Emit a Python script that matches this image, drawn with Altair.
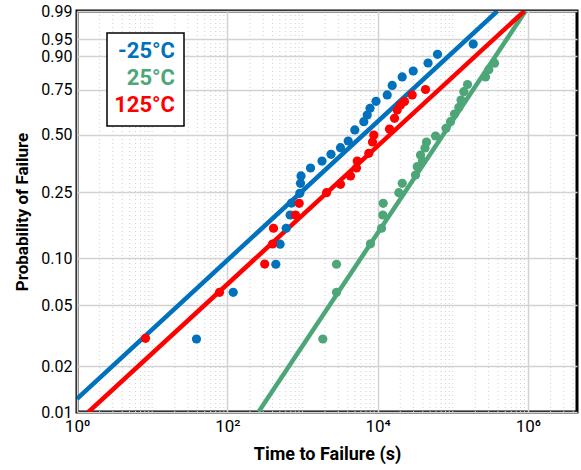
import math
import json
import altair as alt
import pandas as pd

# ---------------- data ----------------
temps = ["-25°C", "25°C", "125°C"]
colors = ["#0072BD", "#4DA678", "#FF0000"]

blue_t = [38.9, 119.8, 442, 504, 608, 685, 715, 922, 942, 957, 1280, 1820, 2399,
          3208, 4062, 4975, 6550, 7275, 7925, 9525, 13420, 15640, 21240, 29780,
          46880, 62660, 187100]
blue_p = [0.0302, 0.0607, 0.0916, 0.1224, 0.1534, 0.1845, 0.2172, 0.2473, 0.2817,
          0.3094, 0.3418, 0.3720, 0.4030, 0.4345, 0.4684, 0.5265, 0.5720, 0.6093,
          0.6468, 0.6860, 0.7210, 0.7714, 0.8137, 0.8413, 0.8751, 0.9071, 0.9380]

green_t = [1866, 2839, 2839, 8044, 11270, 11730, 11870, 19150, 21260, 31940, 33640,
           39590, 37230, 42730, 44740, 58960, 81340, 93350, 105500, 120400, 128800,
           140300, 157100, 272800, 301800, 359400]
green_p = [0.0302, 0.0607, 0.0916, 0.1230, 0.1534, 0.1845, 0.2164, 0.2493, 0.2817,
           0.3132, 0.3473, 0.3720, 0.3996, 0.4332, 0.4632, 0.4943, 0.5357, 0.5720,
           0.6148, 0.6516, 0.6933, 0.7386, 0.7764, 0.8137, 0.8471, 0.8743]

red_t = [8.155, 78.8, 314.6, 399.6, 412, 808, 905, 2089, 3208, 4359, 5237, 5354,
         7638, 8551, 8901, 14400, 16790, 18230, 20170, 22800, 28870, 43390]
red_p = [0.0305, 0.0607, 0.0919, 0.1227, 0.1534, 0.1845, 0.2164, 0.2493, 0.2782,
         0.3094, 0.3418, 0.3720, 0.4076, 0.4632, 0.4996, 0.5318, 0.5909, 0.6374,
         0.6655, 0.6850, 0.7210, 0.7503]

# fitted Weibull lines: end points
blue_fit_t = [1.0, 393000]
blue_fit_p = [0.0122, 0.99]
green_fit_t = [260, 930000]
green_fit_p = [0.01, 0.99]
red_fit_t = [1.42, 900000]
red_fit_p = [0.01, 0.99]

prob_ticks = [0.01, 0.02, 0.05, 0.10, 0.25, 0.50, 0.75, 0.90, 0.95, 0.99]
prob_labels = ["0.01", "0.02", "0.05", "0.10", "0.25", "0.50", "0.75", "0.90", "0.95", "0.99"]
x_major = [1, 100, 10000, 1000000]
x_labels = ["10⁰", "10²", "10⁴", "10⁶"]
x_max = 4.5e6

FONT = "Roboto"


def weib(p):
    return math.log(-math.log(1.0 - p))


pts = []
fits = []
for name, ts, ps, fts, fps in [
    (temps[0], blue_t, blue_p, blue_fit_t, blue_fit_p),
    (temps[1], green_t, green_p, green_fit_t, green_fit_p),
    (temps[2], red_t, red_p, red_fit_t, red_fit_p),
]:
    for t, p in zip(ts, ps):
        pts.append({"series": name, "t": t, "p": p})
    for t, p in zip(fts, fps):
        fits.append({"series": name, "t": t, "p": p})
pts = pd.DataFrame(pts)
fits = pd.DataFrame(fits)

y_vals = [weib(p) for p in prob_ticks]
y_dom = [y_vals[0], y_vals[-1]]

x_minor = [k * 10 ** n for n in range(0, 7) for k in range(1, 10)
           if k * 10 ** n <= x_max and k * 10 ** n not in x_major]
minor_df = pd.DataFrame({"t": x_minor})

x_label_expr = f"{json.dumps(x_labels)}[indexof({json.dumps(x_major)}, datum.value)]"
y_label_expr = f"{json.dumps(prob_labels)}[indexof({json.dumps(y_vals)}, datum.value)]"

color_scale = alt.Scale(domain=temps, range=colors)

x_enc = alt.X(
    "t:Q",
    scale=alt.Scale(type="log", domain=[1, x_max], nice=False),
    axis=alt.Axis(
        values=x_major, labelExpr=x_label_expr, title="Time to Failure (s)",
        grid=True, ticks=False, domain=False, labelFontSize=17, labelPadding=6,
        titleFontSize=18, titlePadding=11, labelFlush=False,
    ),
)
y_enc = alt.Y(
    "W:Q",
    scale=alt.Scale(domain=y_dom, nice=False, zero=False),
    axis=alt.Axis(
        values=y_vals, labelExpr=y_label_expr, title="Probability of Failure",
        grid=True, ticks=False, domain=False, labelFontSize=16, labelPadding=5,
        titleFontSize=17, titlePadding=9,
    ),
)

minor = alt.Chart(minor_df).mark_rule(
    color="#cfcfcf", strokeWidth=1, strokeDash=[1, 3]
).encode(x=alt.X("t:Q"))

lines = alt.Chart(fits).transform_calculate(
    W="log(-log(1 - datum.p))"
).mark_line(strokeWidth=4.5, clip=True).encode(
    x=x_enc, y=y_enc,
    color=alt.Color("series:N", scale=color_scale, legend=None),
    detail="series:N",
)

points = alt.Chart(pts).transform_calculate(
    W="log(-log(1 - datum.p))"
).mark_circle(size=85, opacity=1, clip=True).encode(
    x=x_enc, y=y_enc,
    color=alt.Color("series:N", scale=color_scale, legend=None),
)

box = alt.Chart(pd.DataFrame({"a": [0]})).mark_rect(
    fill="white", stroke="black", strokeWidth=1.5
).encode(x=alt.value(30), x2=alt.value(107), y=alt.value(22), y2=alt.value(115))

legend_y = [47, 74, 101]
legend_layers = []
for name, col, yy in zip(temps, colors, legend_y):
    legend_layers.append(
        alt.Chart(pd.DataFrame({"label": [name]})).mark_text(
            align="right", baseline="alphabetic", fontSize=22, fontWeight="bold",
            font=FONT, color=col,
        ).encode(x=alt.value(98), y=alt.value(yy), text="label:N")
    )

chart = alt.layer(minor, lines, points, box, *legend_layers).properties(
    width=500, height=401,
    autosize=alt.AutoSizeParams(type="none"),
    padding={"left": 77, "top": 11, "right": 4, "bottom": 58},
).configure_view(
    stroke="black", strokeWidth=3
).configure_axis(
    labelFont=FONT, titleFont=FONT, labelColor="black", titleColor="black",
    titleFontWeight="bold", gridColor="#d2d2d2", gridWidth=1.5,
)

chart.save("out.html", embed_options={"renderer": "svg", "actions": False})
